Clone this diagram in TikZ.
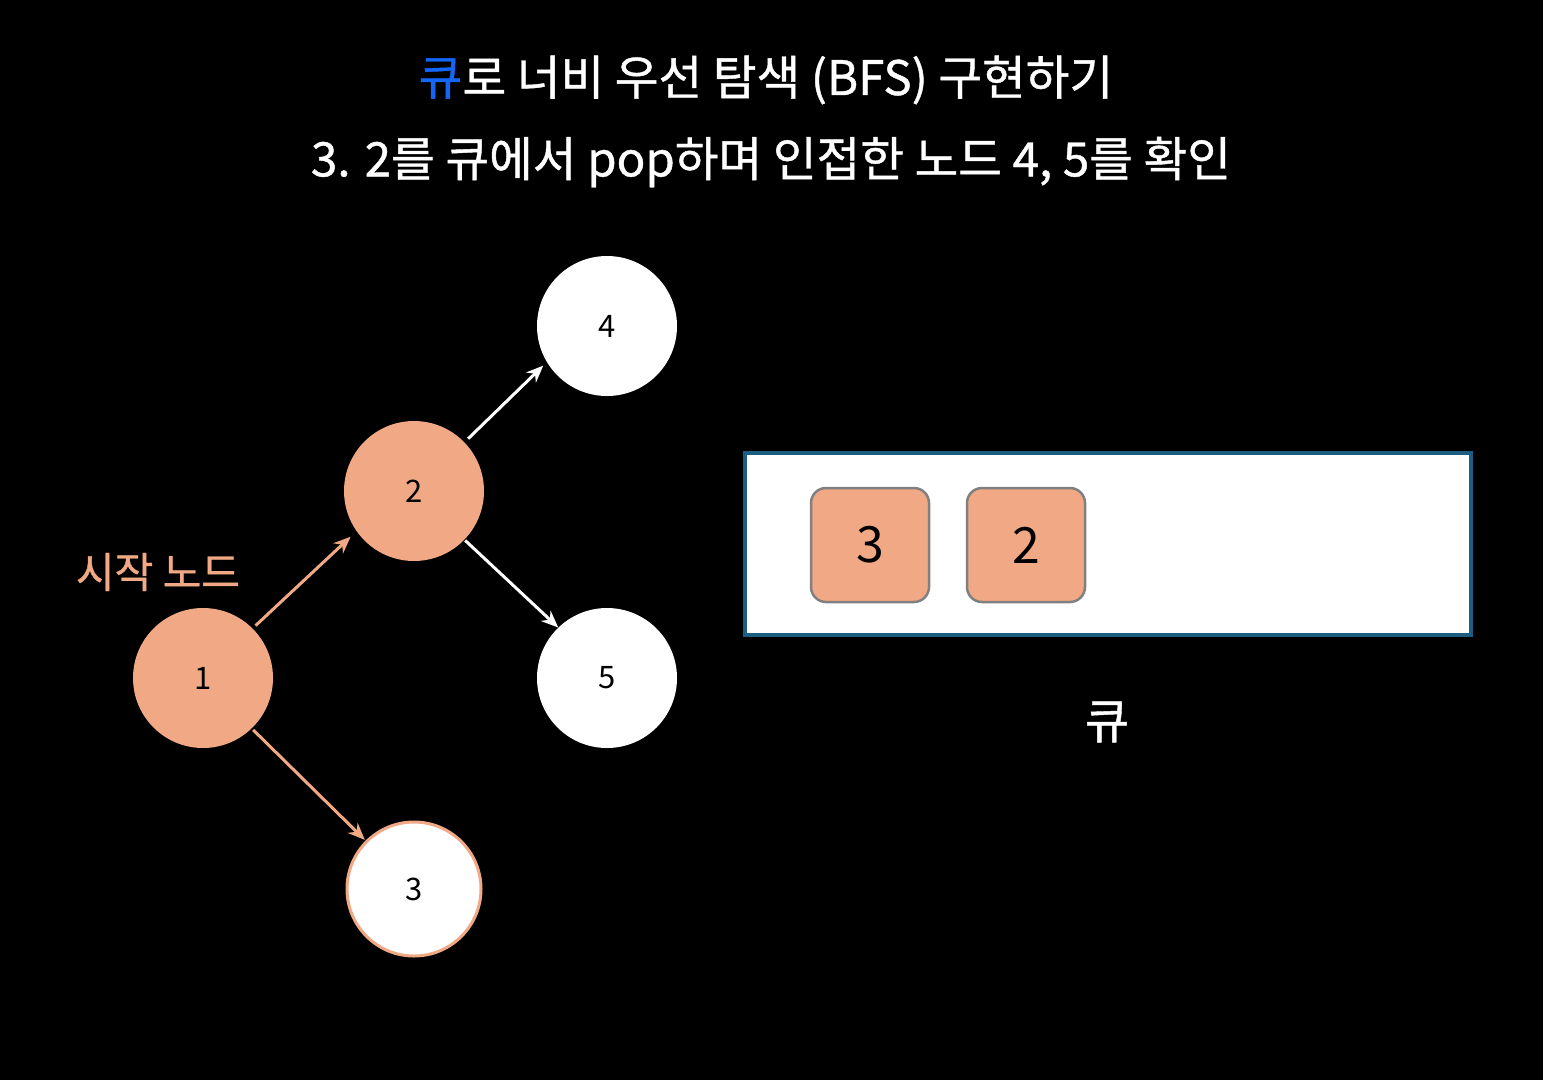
\documentclass[tikz,border=0pt]{standalone}
\usepackage{fontspec}
\setmainfont{Noto Sans CJK KR}
\newfontfamily\medfont[FakeBold=0.9]{Noto Sans CJK KR}
\usetikzlibrary{arrows.meta}
\definecolor{salmon}{HTML}{F0A984}
\definecolor{qblue}{HTML}{1A5F82}
\definecolor{qgray}{HTML}{808080}
\definecolor{titleblue}{HTML}{1466F5}
\tikzset{
  gnode/.style={circle, minimum size=140pt, inner sep=0pt, font=\fontsize{31}{36}\selectfont, text=black},
  visited/.style={gnode, fill=salmon},
  fresh/.style={gnode, fill=white},
  qitem/.style={rectangle, rounded corners=15pt, minimum width=118pt, minimum height=114pt, fill=salmon, draw=qgray, line width=2.5pt, font=\fontsize{50}{56}\selectfont, text=black},
  salarrow/.style={draw=salmon, line width=3pt, -{Stealth[length=17pt,width=14pt]}},
  whitearrow/.style={draw=white, line width=3pt, -{Stealth[length=17pt,width=14pt]}},
  title/.style={text=white, font=\medfont\fontsize{47.5}{54}\selectfont, inner sep=0pt}
}
\begin{document}
\begin{tikzpicture}[x=1pt,y=-1pt]
\fill[black] (0,0) rectangle (1543,1080);
\useasboundingbox (0,0) rectangle (1543,1080);

\node[title] (t1) at (766,80) {\textcolor{titleblue}{큐}로 너비 우선 탐색 (BFS) 구현하기};
\node[title] (t2) at (771,162) {3. 2를 큐에서 pop하며 인접한 노드 4, 5를 확인};

\node[visited] (n1) at (203,678) {1};
\node[visited] (n2) at (414,491) {2};
\node[fresh] (n4) at (607,326) {4};
\node[fresh] (n5) at (607,678) {5};
\node[fresh, minimum size=134pt, draw=salmon, line width=3pt] (n3) at (414,889) {3};

\node[text=salmon, font=\medfont\fontsize{42}{48}\selectfont, inner sep=0pt] (start) at (158,572) {시작 노드};

\draw[salarrow, shorten <=4pt, shorten >=8pt] (n1.45) -- (n2.215);
\draw[salarrow, shorten <=2pt, shorten >=1pt] (n1.-46) -- (n3.135);
\draw[whitearrow, shorten <=5pt, shorten >=5pt] (n2.44) -- (n4.211);
\draw[whitearrow, shorten <=1pt, shorten >=0pt] (n2.-44) -- (n5.134);

\node[rectangle, fill=white, draw=qblue, line width=4pt, minimum width=726pt, minimum height=182pt, inner sep=0pt] (queue) at (1108,544) {};
\node[qitem] (q3) at (870,545) {3};
\node[qitem] (q2) at (1026,545) {2};
\node[text=white, font=\medfont\fontsize{48}{52}\selectfont, inner sep=0pt] (qlabel) at (1107,722) {큐};
\end{tikzpicture}
\end{document}
